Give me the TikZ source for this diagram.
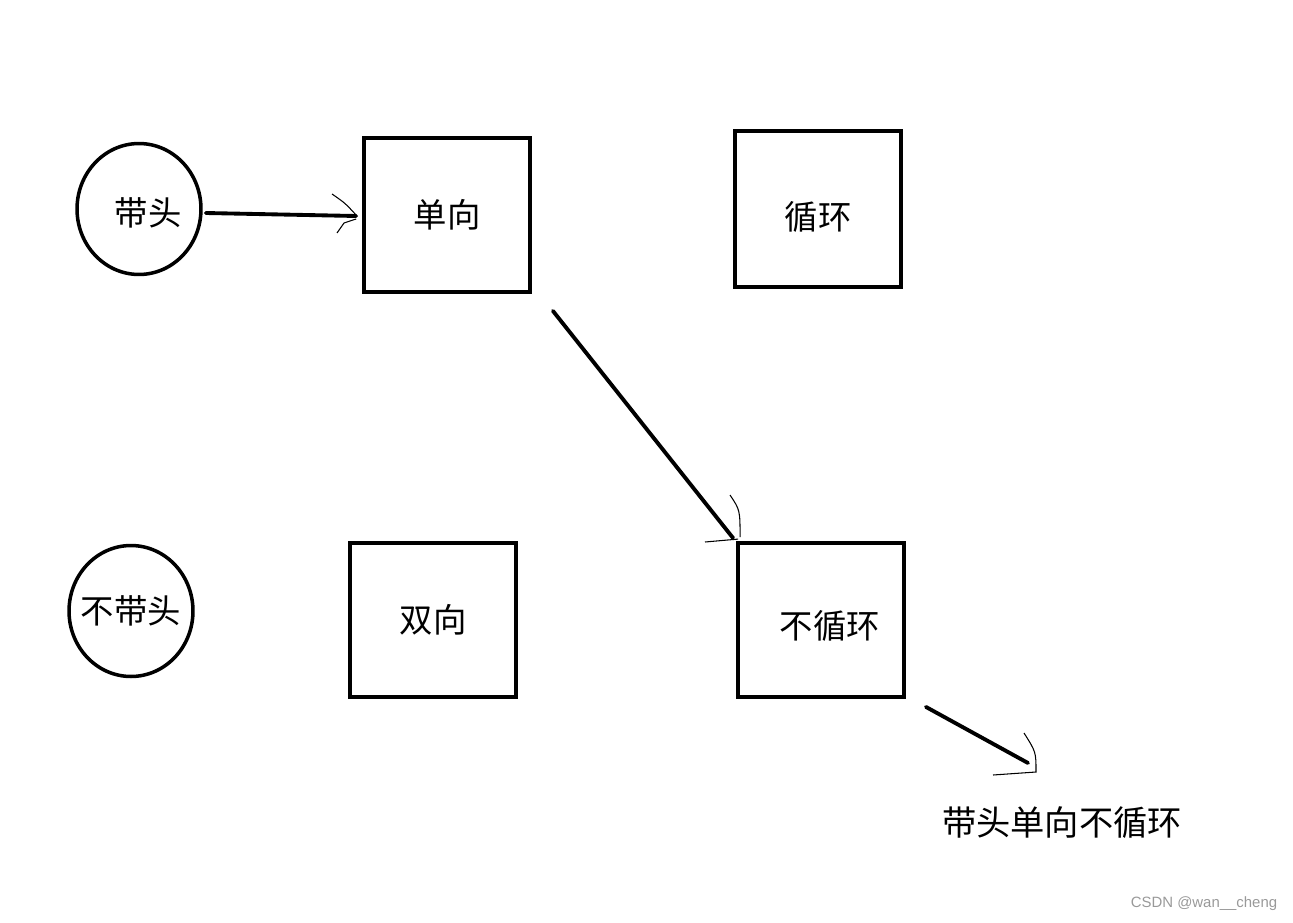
\documentclass[tikz,border=0pt]{standalone}
\usepackage{fontspec}
\newfontfamily\cjk{Noto Sans CJK SC}
\setsansfont{Liberation Sans}
\usetikzlibrary{shapes.geometric}

\begin{document}
\begin{tikzpicture}[x=0.02cm, y=-0.02cm,
    caixa/.style={draw, line width=2.2pt, minimum width=3.32cm, minimum height=3.08cm,
        font=\cjk\fontsize{19}{19}\selectfont},
    bola/.style={draw, ellipse, line width=2pt, minimum width=2.48cm, minimum height=2.62cm,
        inner sep=0pt},
    rotulo/.style={font=\cjk\fontsize{19}{19}\selectfont},
    conn/.style={line width=2.2pt, line cap=round},
    ponta/.style={line width=0.6pt}]

    % margens da figura
    \useasboundingbox (0,0) rectangle (1293,922);

    % --- Cabeça ---
    \node[bola, label={[rotulo, xshift=0.18cm, yshift=-0.08cm]center:带头}] (dt) at (139,209) {};
    \node[bola, label={[rotulo]center:不带头}] (bdt) at (131,611) {};

    % --- Caixas ---
    \node[caixa] (dx) at (447,215) {单向};
    \node[caixa, minimum height=3.12cm, label={[rotulo, yshift=-0.16cm]center:循环}] (xh) at (818,209) {};
    \node[caixa] (sx) at (433,620) {双向};
    \node[caixa, label={[rotulo, xshift=0.18cm, yshift=-0.12cm]center:不循环}] (bxh) at (821,620) {};

    % resultado
    \node[font=\cjk\fontsize{19.5}{19.5}\selectfont] (res) at (1062,823) {带头单向不循环};
    \coordinate (fim) at (1028,763);

    % 1. Seta do circulo para a caixa
    \draw[conn] ([shift={(3,4)}]dt.east) -- ([shift={(-6,1)}]dx.west);
    \draw[ponta] (332,194) .. controls (345,203) .. ([shift={(-6,0)}]dx.west);
    \draw[ponta] (337,233) -- (344,223) -- ([shift={(-6,4)}]dx.west);

    % 2. Diagonal ate "nao circular"
    \draw[conn] ([shift={(21,17)}]dx.south east) -- ([shift={(-3,-3)}]bxh.north west);
    \draw[ponta] (730,495) .. controls (740,510) .. ([shift={(4,-4)}]bxh.north west);
    \draw[ponta] (705,542) -- ([shift={(2,-2)}]bxh.north west);

    % 3. Seta para o resultado
    \draw[conn] ([shift={(20,8)}]bxh.south east) -- (fim);
    \draw[ponta] (1024,733) .. controls (1036,752) .. (1036,772) -- (993,775);

    % marca d'agua
    \node[font=\sffamily\fontsize{8.5}{8.5}\selectfont, text=gray!80] (wm) at (1204,904) {CSDN @wan\_\_cheng};

\end{tikzpicture}
\end{document}
